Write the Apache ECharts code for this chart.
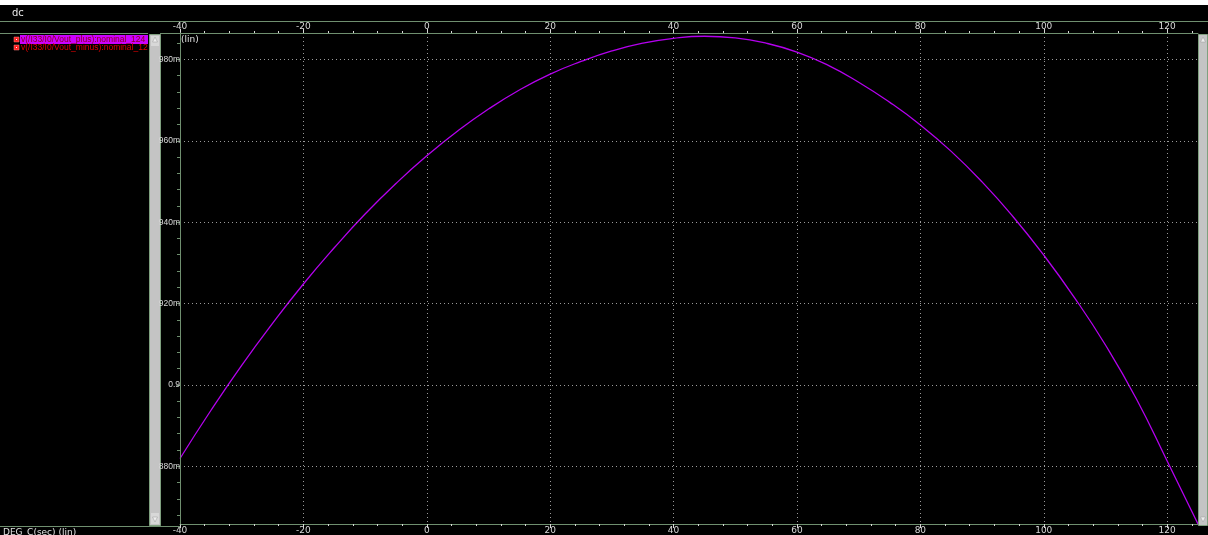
<!DOCTYPE html>
<html><head><meta charset="utf-8">
<script src="https://cdn.jsdelivr.net/npm/echarts@6/dist/echarts.min.js"></script>
<style>html,body{margin:0;padding:0;background:#000;}#c{width:1208px;height:535px;}</style>
</head><body><div id="c"></div>
<script>
// ---- data ----
const temps = [-40,-35,-30,-25,-20,-15,-10,-5,0,5,10,15,20,25,30,35,40,45,50,55,60,65,70,75,80,85,90,95,100,105,110,115,120,125];
const voutPlus = [0.8819,0.8937,0.9048,0.9151,0.9248,0.9337,0.9420,0.9495,0.9563,0.9624,0.9678,0.9725,0.9764,0.9795,0.9821,0.9840,0.9852,0.9857,0.9853,0.9840,0.9818,0.9786,0.9744,0.9695,0.9639,0.9574,0.9499,0.9414,0.9319,0.9214,0.9098,0.8966,0.8813,0.8658];
const xTickValues = [-40,-20,0,20,40,60,80,100,120];
const xTickLabels = ['-40','-20','0','20','40','60','80','100','120'];
const xMinorValues = [-36,-32,-28,-24,-16,-12,-8,-4,4,8,12,16,24,28,32,36,44,48,52,56,64,68,72,76,84,88,92,96,104,108,112,116,124];
const yTickValues = [0.88,0.90,0.92,0.94,0.96,0.98];
const yTickLabels = ['880m','0.9','920m','940m','960m','980m'];
const yMinorValues = [0.868,0.872,0.876,0.884,0.888,0.892,0.896,0.904,0.908,0.912,0.916,0.924,0.928,0.932,0.936,0.944,0.948,0.952,0.956,0.964,0.968,0.972,0.976,0.984];
const legendNames = ['v(/I33/I0/Vout_plus):nominal_124','v(/I33/I0/Vout_minus):nominal_124'];
const xAxisName = 'DEG_C(sec) (lin)';

const X_MIN = -40, X_MAX = 125, Y_MIN = 0.8658, Y_MAX = 0.9865;
const GREEN = '#6f8f6f';
const LABEL = '#d8d8d8';
const FONT = 'DejaVu Sans';

function lab(vals, labels) {
  return function (v) {
    for (let i = 0; i < vals.length; i++) if (Math.abs(vals[i] - v) < 1e-6) return labels[i];
    return '';
  };
}

const chart = echarts.init(document.getElementById('c'), null, {renderer: 'canvas'});
const grid = {left: 180, top: 33, width: 1018, height: 493};

function xMain(pos) {
  return {
    type: 'value', position: pos, min: X_MIN, max: X_MAX, gridIndex: 0,
    axisLine: {show: true, onZero: false, lineStyle: {color: GREEN, width: 1}},
    axisTick: {show: true, customValues: xTickValues, length: 4, inside: false, lineStyle: {color: LABEL}},
    axisLabel: {show: true, customValues: xTickValues, formatter: lab(xTickValues, xTickLabels), color: LABEL, fontSize: 9, fontFamily: FONT, margin: 2},
    splitLine: {show: pos === 'top', lineStyle: {color: '#9a9a9a', type: [1, 3], width: 1}}
  };
}
function xMinor(pos) {
  return {
    type: 'value', position: pos, min: X_MIN, max: X_MAX, gridIndex: 0,
    axisLine: {show: false, onZero: false},
    axisTick: {show: true, customValues: xMinorValues, length: 2, lineStyle: {color: LABEL}},
    axisLabel: {show: false}, splitLine: {show: false}
  };
}

const option = {
  backgroundColor: '#000',
  animation: false,
  grid: grid,
  xAxis: [xMain('top'), xMinor('top'), xMain('bottom'), xMinor('bottom')],
  yAxis: [
    {
      type: 'value', position: 'left', min: Y_MIN, max: Y_MAX, z: 120,
      axisLine: {show: true, onZero: false, lineStyle: {color: GREEN}},
      axisTick: {show: true, customValues: yTickValues, length: 3, lineStyle: {color: GREEN}},
      axisLabel: {show: true, customValues: yTickValues, formatter: lab(yTickValues, yTickLabels), color: LABEL, fontSize: 8.5, fontFamily: 'Liberation Sans', margin: 0},
      splitLine: {show: true, lineStyle: {color: '#9a9a9a', type: [1, 3], width: 1}}
    },
    {
      type: 'value', position: 'left', min: Y_MIN, max: Y_MAX,
      axisLine: {show: false, onZero: false},
      axisTick: {show: true, customValues: yMinorValues, length: 3, lineStyle: {color: GREEN}},
      axisLabel: {show: false}, splitLine: {show: false}
    }
  ],
  series: [{
    name: legendNames[0], type: 'line', xAxisIndex: 0, yAxisIndex: 0,
    data: temps.map((t, i) => [t, voutPlus[i]]),
    smooth: 0.5, showSymbol: false, clip: true,
    lineStyle: {color: '#b400ee', width: 1.3}
  }],
  graphic: [
    {type: 'rect', shape: {x: 0, y: 0, width: 1208, height: 5}, style: {fill: '#fff'}, z: 100},
    {type: 'text', left: 12, top: 8, style: {text: 'dc', fill: '#e8e8e8', font: '10px "DejaVu Sans"'}, z: 100},
    {type: 'line', shape: {x1: 0, y1: 21.5, x2: 1208, y2: 21.5}, style: {stroke: GREEN, lineWidth: 1}, z: 100},
    {type: 'line', shape: {x1: 0, y1: 33.5, x2: 180, y2: 33.5}, style: {stroke: GREEN, lineWidth: 1}, z: 100},
    {type: 'line', shape: {x1: 0, y1: 526.5, x2: 180, y2: 526.5}, style: {stroke: GREEN, lineWidth: 1}, z: 100},
    // legend
    {type: 'rect', shape: {x: 14, y: 37, width: 5, height: 5}, style: {fill: '#ff2020', stroke: '#ff8080', lineWidth: 0.5}, z: 100},
    {type: 'rect', shape: {x: 16, y: 39, width: 1, height: 1}, style: {fill: '#fff'}, z: 101},
    {type: 'rect', shape: {x: 20, y: 35, width: 128, height: 9}, style: {fill: '#cc00ff'}, z: 100},
    {type: 'text', left: 21, top: 35, style: {text: legendNames[0], fill: '#8a0020', font: '8.5px "Liberation Sans"'}, z: 101},
    {type: 'rect', shape: {x: 14, y: 45, width: 5, height: 5}, style: {fill: '#ff2020', stroke: '#ff8080', lineWidth: 0.5}, z: 100},
    {type: 'rect', shape: {x: 16, y: 47, width: 1, height: 1}, style: {fill: '#fff'}, z: 101},
    {type: 'text', left: 21, top: 43.5, style: {text: legendNames[1], fill: '#e00000', font: '8.5px "Liberation Sans"'}, z: 101},
    // left scrollbar
    {type: 'rect', shape: {x: 148, y: 33, width: 12, height: 493}, style: {fill: '#000'}, z: 102},
    {type: 'rect', shape: {x: 149.5, y: 34.5, width: 11, height: 491}, style: {fill: '#c4c4c4', stroke: '#7fa07f', lineWidth: 1}, z: 103},
    {type: 'rect', shape: {x: 151, y: 36, width: 8, height: 10}, style: {fill: '#d8d8d8'}, z: 104},
    {type: 'polygon', shape: {points: [[155, 37], [152.5, 42], [157.5, 42]]}, style: {fill: '#eee', stroke: '#999', lineWidth: 0.5}, z: 105},
    {type: 'rect', shape: {x: 151, y: 513, width: 8, height: 11}, style: {fill: '#d8d8d8'}, z: 104},
    {type: 'polygon', shape: {points: [[152.5, 517], [157.5, 517], [155, 522]]}, style: {fill: '#eee', stroke: '#999', lineWidth: 0.5}, z: 105},
    // right scrollbar
    {type: 'rect', shape: {x: 1198.5, y: 34.5, width: 9, height: 491}, style: {fill: '#c4c4c4', stroke: '#7fa07f', lineWidth: 1}, z: 103},
    {type: 'polygon', shape: {points: [[1203, 37], [1200.5, 42], [1205.5, 42]]}, style: {fill: '#eee', stroke: '#999', lineWidth: 0.5}, z: 105},
    {type: 'polygon', shape: {points: [[1200.5, 517], [1205.5, 517], [1203, 522]]}, style: {fill: '#eee', stroke: '#999', lineWidth: 0.5}, z: 105},
    {type: 'text', left: 181, top: 35, style: {text: '(lin)', fill: '#e0e0e0', font: '9px "DejaVu Sans"'}, z: 100},
    {type: 'text', left: 3, top: 528, style: {text: xAxisName, fill: '#e0e0e0', font: '9px "DejaVu Sans"'}, z: 100}
  ]
};
chart.setOption(option);
</script>
</body></html>
